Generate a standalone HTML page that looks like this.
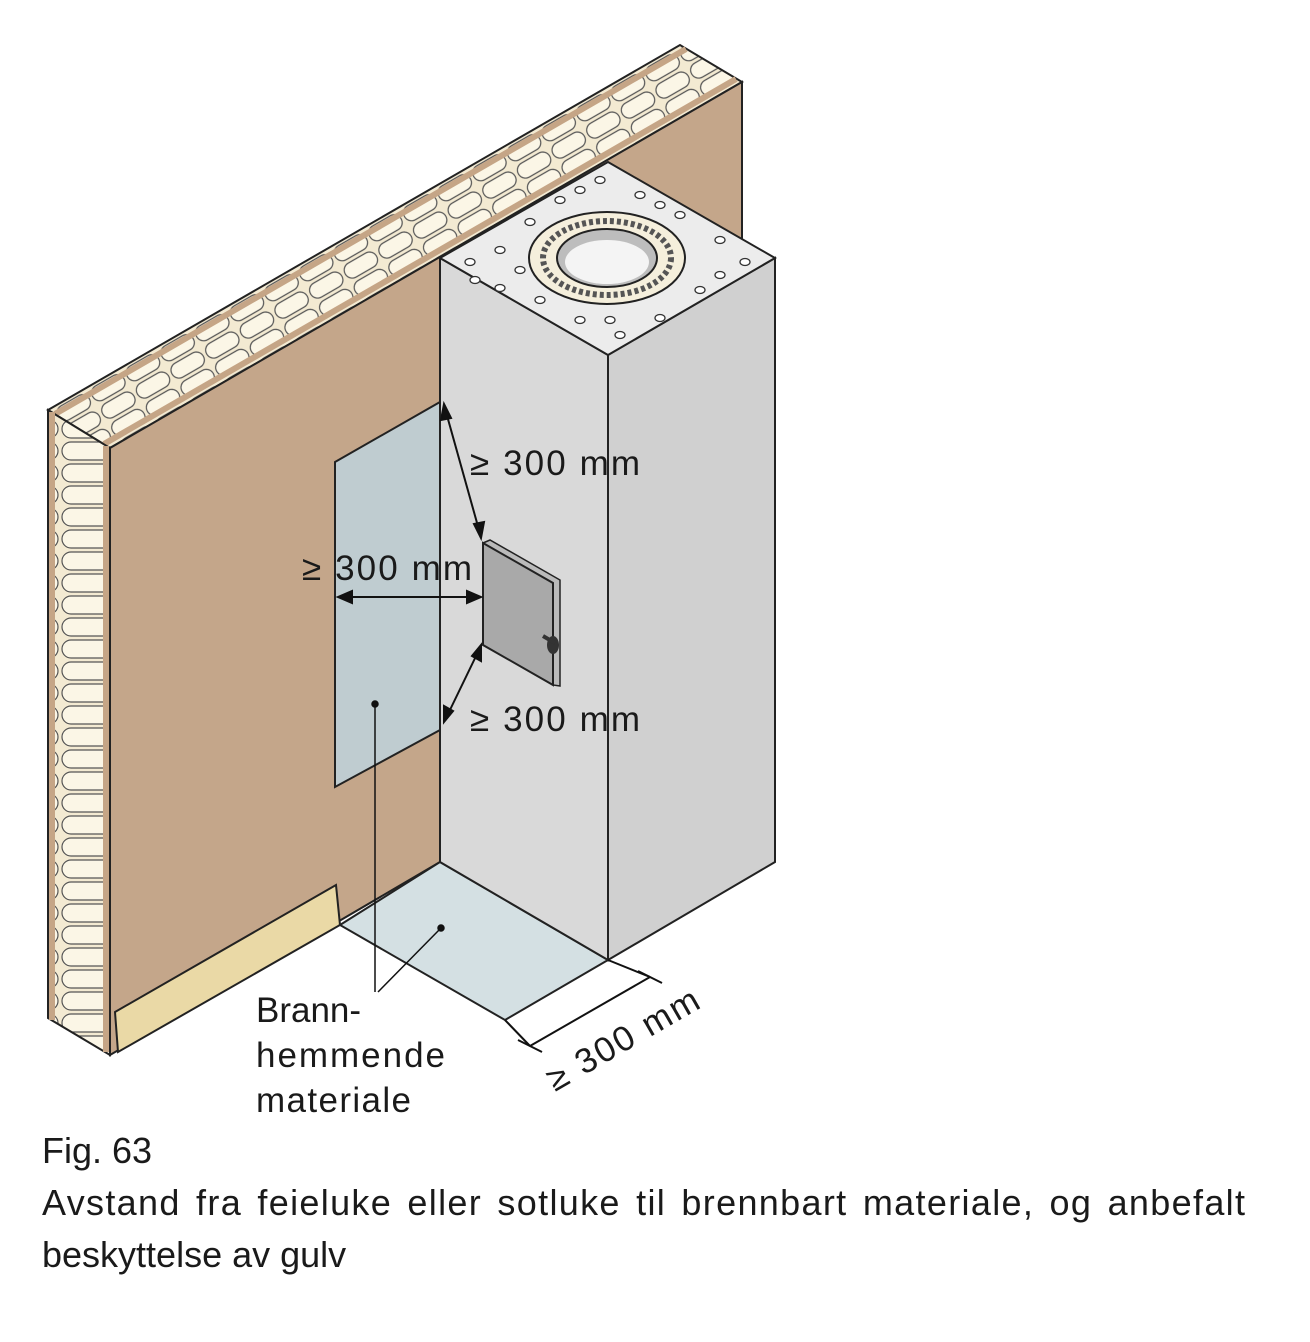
<!DOCTYPE html>
<html><head><meta charset="utf-8"><style>
html,body{margin:0;padding:0;background:#fff;}
svg{display:block;}
text{font-family:"Liberation Sans",Arial,sans-serif;fill:#1a1a1a;}
</style></head><body>
<svg width="1310" height="1342" viewBox="0 0 1310 1342" xmlns="http://www.w3.org/2000/svg">
<defs>
<pattern id="ins" width="40" height="20" patternUnits="userSpaceOnUse" patternTransform="rotate(-30)">
<rect width="40" height="20" fill="#f3ead2"/>
<rect x="2" y="2" width="36" height="16" rx="8" fill="#fbf6e6" stroke="#555" stroke-width="1.2"/>
</pattern>
<pattern id="ins2" width="60" height="22" patternUnits="userSpaceOnUse">
<rect width="60" height="22" fill="#f3ead2"/>
<rect x="2" y="2" width="56" height="18" rx="9" fill="#fbf6e6" stroke="#555" stroke-width="1.2"/>
</pattern>
</defs>
<polygon points="48,410 680,45 742,82 110,448" fill="url(#ins)" stroke="#222" stroke-width="2"/>
<line x1="55" y1="414" x2="686" y2="49" stroke="#c5a586" stroke-width="6"/>
<line x1="104" y1="444" x2="736" y2="79" stroke="#c5a586" stroke-width="6"/>
<polygon points="48,410 110,448 110,1055 48,1018" fill="url(#ins2)" stroke="#222" stroke-width="2"/>
<line x1="52" y1="412" x2="52" y2="1020" stroke="#c5a586" stroke-width="6"/>
<line x1="106" y1="446" x2="106" y2="1052" stroke="#c5a586" stroke-width="6"/>
<polygon points="110,448 742,82 742,260 440,258 440,862 110,1055" fill="#c4a68a" stroke="#222" stroke-width="2"/>
<polygon points="115,1012 336,885 340,925 118,1052" fill="#ead9a6" stroke="#222" stroke-width="2"/>
<polygon points="340,925 440,862 608,960 505,1020" fill="#d4e0e3" stroke="#222" stroke-width="2"/>
<polygon points="335,462 440,402 440,730 335,787" fill="#bfccd0" stroke="#222" stroke-width="2"/>
<polygon points="440,258 608,355 608,960 440,862" fill="#d9d9d9" stroke="#222" stroke-width="2"/>
<polygon points="608,355 775,258 775,862 608,960" fill="#d0d0d0" stroke="#222" stroke-width="2"/>
<polygon points="440,258 608,162 775,258 608,355" fill="#ececec" stroke="#222" stroke-width="2"/>
<g fill="#fff" stroke="#333" stroke-width="1.3">
<ellipse cx="470" cy="262" rx="5" ry="3.5"/><ellipse cx="500" cy="250" rx="5" ry="3.5"/><ellipse cx="530" cy="222" rx="5" ry="3.5"/>
<ellipse cx="560" cy="200" rx="5" ry="3.5"/><ellipse cx="600" cy="180" rx="5" ry="3.5"/><ellipse cx="640" cy="195" rx="5" ry="3.5"/>
<ellipse cx="680" cy="215" rx="5" ry="3.5"/><ellipse cx="720" cy="240" rx="5" ry="3.5"/><ellipse cx="745" cy="262" rx="5" ry="3.5"/>
<ellipse cx="700" cy="290" rx="5" ry="3.5"/><ellipse cx="660" cy="318" rx="5" ry="3.5"/><ellipse cx="620" cy="335" rx="5" ry="3.5"/>
<ellipse cx="580" cy="320" rx="5" ry="3.5"/><ellipse cx="540" cy="300" rx="5" ry="3.5"/><ellipse cx="500" cy="288" rx="5" ry="3.5"/>
<ellipse cx="475" cy="280" rx="5" ry="3.5"/><ellipse cx="520" cy="270" rx="5" ry="3.5"/><ellipse cx="720" cy="275" rx="5" ry="3.5"/>
<ellipse cx="610" cy="320" rx="5" ry="3.5"/><ellipse cx="580" cy="190" rx="5" ry="3.5"/><ellipse cx="660" cy="205" rx="5" ry="3.5"/>
</g>
<ellipse cx="607" cy="258" rx="78" ry="46" fill="#f5efdc" stroke="#222" stroke-width="2"/>
<ellipse cx="607" cy="258" rx="64" ry="37" fill="none" stroke="#555" stroke-width="6" stroke-dasharray="4 3"/>
<ellipse cx="607" cy="258" rx="50" ry="29" fill="#bdbdbd" stroke="#222" stroke-width="2"/>
<ellipse cx="607" cy="262" rx="42" ry="22" fill="#f4f4f4"/>
<polygon points="483,543 490,540 560,580 560,686 553,685" fill="#bbb" stroke="#222" stroke-width="1.5"/>
<polygon points="483,543 553,583 553,685 483,645" fill="#a9a9a9" stroke="#222" stroke-width="2"/>
<ellipse cx="553" cy="645" rx="6" ry="9" fill="#333"/>
<line x1="543" y1="636" x2="555" y2="643" stroke="#333" stroke-width="4"/>
<g stroke="#111" stroke-width="2" fill="#111">
<line x1="446" y1="412" x2="479" y2="530"/>
<polygon points="444,404 441,420 451,418"/><polygon points="481,538 474,524 484,522"/>
<line x1="345" y1="597" x2="474" y2="597"/>
<polygon points="338,597 352,591 352,603"/><polygon points="481,597 467,591 467,603"/>
<line x1="448" y1="714" x2="478" y2="652"/>
<polygon points="444,722 444,706 453,711"/><polygon points="481,645 481,661 472,656"/>
<line x1="530" y1="1046" x2="650" y2="977"/>
<line x1="518" y1="1040" x2="542" y2="1052"/><line x1="638" y1="971" x2="662" y2="983"/>
<line x1="505" y1="1020" x2="530" y2="1046"/><line x1="608" y1="960" x2="650" y2="977"/>
</g>
<g stroke="#111" stroke-width="1.5" fill="#111">
<line x1="375" y1="704" x2="375" y2="992"/><line x1="441" y1="928" x2="378" y2="992"/>
<circle cx="375" cy="704" r="3"/><circle cx="441" cy="928" r="3"/>
</g>
<g font-size="35">
<text x="470" y="475" textLength="170" lengthAdjust="spacing">≥ 300 mm</text>
<text x="302" y="580" textLength="170" lengthAdjust="spacing">≥ 300 mm</text>
<text x="470" y="731" textLength="170" lengthAdjust="spacing">≥ 300 mm</text>
<text transform="translate(555,1092) rotate(-30)" textLength="170" lengthAdjust="spacing">≥ 300 mm</text>
<text x="256" y="1022">Brann-</text>
<text x="256" y="1067" textLength="189">hemmende</text>
<text x="256" y="1112" textLength="155">materiale</text>
</g>
<g font-size="36">
<text x="42" y="1163">Fig. 63</text>
<text x="42" y="1215" textLength="1203" lengthAdjust="spacing" word-spacing="4">Avstand fra feieluke eller sotluke til brennbart materiale, og anbefalt</text>
<text x="42" y="1267">beskyttelse av gulv</text>
</g>
</svg>
</body></html>
